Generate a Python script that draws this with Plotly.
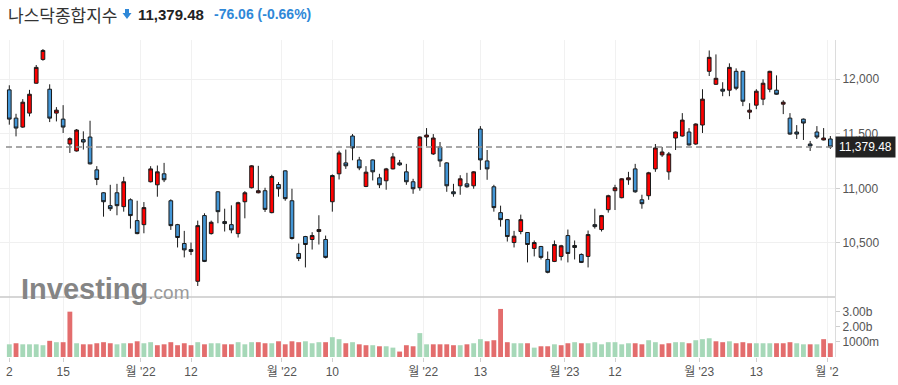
import plotly.graph_objects as go

# ---------------- data ----------------
open_ = [11903, 11644, 11562, 11690, 11964, 12182, 11909, 11690, 11635, 11407,
         11343, 11447, 11471, 11170, 10960, 10842, 10960, 10833, 10896, 10705,
         10668, 11061, 11033, 11134, 10887, 10668, 10495, 10440, 10149, 10751,
         10586, 10969, 10696, 10668, 10586, 10878, 11006, 10960, 10979, 10778,
         11036, 11161, 10887, 10404, 10559, 10532, 10605, 10532, 10878, 11134,
         11234, 11480, 11261, 11018, 11261, 11097, 11070, 11179, 11234, 11152,
         11061, 11006, 11471, 11316, 11380, 11234, 10969, 11024, 11042, 11024,
         11544, 11252, 11015, 10778, 10714, 10504, 10605, 10596, 10450, 10468,
         10349, 10331, 10377, 10568, 10477, 10395, 10377, 10668, 10623, 10805,
         10979, 10915, 11079, 11179, 10896, 10933, 11179, 11307, 11152, 11462,
         11480, 11517, 11407, 11581, 12073, 11954, 11909, 11900, 12073, 12073,
         11699, 11763, 11818, 11909, 11900, 11772, 11644, 11517, 11635, 11407,
         11517, 11444, 11453]
high = [11945, 11684, 11818, 11903, 12131, 12277, 11954, 11745, 11763, 11468,
        11544, 11523, 11620, 11204, 10965, 11033, 11042, 11106, 10909, 10887,
        10875, 11204, 11210, 11234, 10900, 10675, 10611, 10504, 10705, 10772,
        10705, 10975, 10814, 10845, 10878, 10975, 11213, 11207, 11006, 11125,
        11058, 11166, 10997, 10495, 10565, 10599, 10754, 10568, 11128, 11346,
        11356, 11498, 11289, 11204, 11266, 11134, 11188, 11325, 11261, 11225,
        11088, 11476, 11553, 11498, 11425, 11240, 11042, 11121, 11143, 11158,
        11571, 11352, 11033, 10842, 10720, 10611, 10760, 10600, 10523, 10473,
        10422, 10523, 10483, 10623, 10523, 10404, 10614, 10814, 10757, 10942,
        11033, 11094, 11152, 11225, 10942, 11152, 11407, 11380, 11334, 11522,
        11690, 11553, 11596, 11909, 12264, 12228, 11973, 12146, 12100, 12078,
        11781, 11909, 12000, 12078, 12036, 11808, 11690, 11580, 11640, 11435,
        11571, 11553, 11480]
low = [11584, 11477, 11555, 11660, 11960, 12170, 11608, 11614, 11508, 11325,
       11338, 11356, 11220, 11030, 10741, 10793, 10754, 10787, 10632, 10580,
       10589, 11055, 10924, 11058, 10620, 10459, 10368, 10389, 10106, 10325,
       10577, 10681, 10605, 10589, 10550, 10726, 11000, 10955, 10784, 10772,
       10924, 10887, 10532, 10334, 10276, 10440, 10486, 10358, 10787, 11082,
       11179, 11258, 11167, 11012, 11073, 11003, 10988, 11174, 11207, 11033,
       10951, 10979, 11386, 11307, 11197, 10969, 10924, 10942, 11006, 10997,
       11170, 11079, 10787, 10650, 10513, 10459, 10580, 10322, 10377, 10349,
       10222, 10325, 10340, 10322, 10349, 10316, 10276, 10632, 10605, 10778,
       10802, 10909, 11033, 10960, 10814, 10896, 11152, 11289, 11079, 11352,
       11475, 11393, 11400, 11508, 12030, 11948, 11845, 11845, 11900, 11754,
       11635, 11726, 11763, 11881, 11858, 11681, 11492, 11453, 11444, 11343,
       11453, 11440, 11362]
close = [11635, 11553, 11790, 11863, 12109, 12264, 11644, 11717, 11562, 11456,
         11535, 11425, 11225, 11082, 10878, 10814, 10842, 11061, 10751, 10586,
         10824, 11179, 11152, 11079, 10659, 10550, 10437, 10422, 10659, 10331,
         10690, 10787, 10678, 10620, 10869, 10960, 11207, 10979, 10808, 11109,
         10997, 10906, 10541, 10358, 10486, 10568, 10623, 10368, 11118, 11325,
         11207, 11371, 11188, 11149, 11152, 11033, 11179, 11289, 11216, 11061,
         10997, 11471, 11489, 11462, 11252, 11024, 10951, 11088, 11015, 11152,
         11261, 11179, 10824, 10714, 10559, 10562, 10714, 10486, 10504, 10368,
         10231, 10486, 10474, 10404, 10459, 10322, 10577, 10650, 10751, 10933,
         11006, 11088, 11097, 10969, 10860, 11143, 11371, 11334, 11316, 11517,
         11626, 11398, 11590, 11818, 12201, 12009, 11891, 12109, 11918, 11799,
         11717, 11891, 11964, 12073, 11863, 11790, 11498, 11498, 11599, 11389,
         11471, 11462, 11379.48]
volume = [0.84, 0.91, 0.84, 0.84, 0.84, 0.78, 1.07, 0.98, 0.98, 3.00,
          0.91, 0.84, 0.84, 0.91, 0.98, 0.91, 0.84, 0.91, 0.91, 1.04,
          0.91, 0.98, 0.78, 0.84, 0.98, 0.78, 0.91, 0.78, 0.98, 0.84,
          0.91, 0.91, 0.84, 0.84, 0.98, 0.84, 0.98, 0.98, 0.91, 0.91,
          1.04, 0.84, 1.04, 0.98, 1.04, 0.91, 0.98, 0.98, 1.31, 1.18,
          0.91, 0.98, 0.84, 0.78, 0.78, 0.71, 0.71, 0.62, 0.36, 0.78,
          0.71, 1.58, 0.84, 0.84, 0.84, 0.84, 0.78, 0.78, 0.84, 0.91,
          1.18, 1.04, 1.11, 3.18, 0.98, 0.91, 0.91, 0.91, 0.62, 0.71,
          0.71, 0.84, 0.78, 0.91, 0.98, 0.91, 0.91, 0.98, 0.84, 0.98,
          0.98, 0.84, 0.91, 0.91, 0.84, 1.11, 0.98, 0.84, 0.91, 0.98,
          0.98, 0.91, 1.11, 1.18, 1.24, 1.04, 0.98, 1.04, 0.91, 0.98,
          0.91, 0.91, 0.91, 0.91, 0.91, 0.91, 0.98, 0.91, 0.84, 0.84,
          0.84, 1.18, 0.91]  # billions
volume_dir = ("grggggrgrr" "grrrrrggrr" "ggrrrrrrgr" "ggrrgggrrg" "rrrrgggrgg"
              "rgrrgrggrr" "rggrrrrgrg" "grrrrggrgr" "rgrrgrgggg" "gggrrggrrg"
              "grgggrrgrr" "rgggrrrggr" "grr")
tick_pos = [0, 8, 19.5, 27, 40.5, 48, 61.5, 70, 82.5, 90, 102.5, 111, 121.5]
tick_text = ["2", "15", "월 '22", "12", "월 '22", "10", "월 '22", "13",
             "월 '23", "12", "월 '23", "13", "월 '2"]
price_ticks = [10500, 11000, 11500, 12000]
price_tick_text = ["10,500", "11,000", "11,500", "12,000"]
vol_ticks = [1.0, 2.0, 3.0]
vol_tick_text = ["1000m", "2.00b", "3.00b"]
last_price = 11379.48
title_name = "나스닥종합지수"
title_price = "11,379.48"
title_change = "-76.06 (-0.66%)"

# ---------------- layout helpers ----------------
W, H = 898, 385
ML, MR, MT, MB = 0, 63, 40, 28
PW, PH = W - ML - MR, H - MT - MB
VOL_FRAC = 60 / PH


def px(xp):
    return (xp - ML) / PW


def py(yp):
    return (H - MB - yp) / PH


x = list(range(len(close)))
vcolors = ["#a6d8b8" if d == "g" else "#e36d6d" for d in volume_dir]

fig = go.Figure()
fig.add_trace(go.Candlestick(
    x=x, open=open_, high=high, low=low, close=close,
    increasing=dict(fillcolor="#ff0000", line=dict(color="#1a1a1a", width=1)),
    decreasing=dict(fillcolor="#4396d6", line=dict(color="#1a1a1a", width=1)),
    whiskerwidth=0, xaxis="x2", yaxis="y2", showlegend=False, hoverinfo="skip"))
fig.add_trace(go.Bar(
    x=x, y=volume, width=0.72, marker=dict(color=vcolors, line=dict(width=0)),
    xaxis="x", yaxis="y", showlegend=False, hoverinfo="skip"))

xr = [-(9.3 - ML) / 6.73, (835 - 9.3) / 6.73]
fig.update_layout(
    width=W, height=H, margin=dict(l=ML, r=MR, t=MT, b=MB),
    paper_bgcolor="white", plot_bgcolor="white",
    font=dict(family="Liberation Sans, Arial, Noto Sans CJK KR", size=12, color="#555"),
    hovermode=False, boxgap=0.22,
    xaxis=dict(domain=[0, 1], range=xr, anchor="y", tickmode="array",
               tickvals=tick_pos, ticktext=tick_text, showgrid=True,
               gridcolor="#f1f1f1", gridwidth=1, zeroline=False, showline=False,
               ticks="outside", ticklen=4, tickcolor="#cfcfcf",
               tickfont=dict(size=12, color="#555"), rangeslider=dict(visible=False)),
    xaxis2=dict(domain=[0, 1], range=xr, anchor="y2", matches="x", tickmode="array",
                tickvals=tick_pos, showticklabels=False, showgrid=True,
                gridcolor="#f1f1f1", gridwidth=1, zeroline=False, showline=False,
                ticks="", rangeslider=dict(visible=False)),
    yaxis=dict(domain=[0, VOL_FRAC], range=[0, 3.97], side="right", anchor="x",
               tickmode="array", tickvals=vol_ticks, ticktext=vol_tick_text,
               showgrid=False, zeroline=False, showline=True, linecolor="#dcdcdc",
               ticks="outside", ticklen=4, tickcolor="#cfcfcf",
               tickfont=dict(size=12, color="#555")),
    yaxis2=dict(domain=[VOL_FRAC, 1], range=[10005, 12360], side="right", anchor="x2",
                tickmode="array", tickvals=price_ticks, ticktext=price_tick_text,
                showgrid=True, gridcolor="#f0f0f0", zeroline=False, showline=True,
                linecolor="#dcdcdc", ticks="outside", ticklen=4, tickcolor="#cfcfcf",
                tickfont=dict(size=12, color="#555")),
)

shapes = [
    dict(type="line", xref="paper", yref="paper", x0=0, x1=1, y0=VOL_FRAC, y1=VOL_FRAC,
         line=dict(color="#c8c8c8", width=1.5), layer="above"),
    dict(type="line", xref="paper", yref="y2", x0=px(6), x1=1, y0=last_price, y1=last_price,
         line=dict(color="#8c8c8c", width=1.5, dash="6px,4px"), layer="above"),
]
arrow_pts = [(125, 9), (129, 9), (129, 13), (131.5, 13), (127, 19), (122.5, 13), (125, 13)]
path = "M " + " L ".join(f"{px(a):.5f},{py(b):.5f}" for a, b in arrow_pts) + " Z"
shapes.append(dict(type="path", xref="paper", yref="paper", path=path,
                   fillcolor="#2f88d8", line=dict(width=0)))
fig.update_layout(shapes=shapes)

ann = [
    dict(text=title_name, x=px(6), y=py(14), xanchor="left", yanchor="middle",
         font=dict(family="Noto Sans CJK KR", size=17, color="#333")),
    dict(text="<b>" + title_price + "</b>", x=px(136), y=py(14), xanchor="left",
         yanchor="middle", font=dict(family="Liberation Sans", size=15, color="#222")),
    dict(text="<b>" + title_change + "</b>", x=px(212), y=py(14), xanchor="left",
         yanchor="middle", font=dict(family="Liberation Sans", size=14, color="#2f88d8")),
    dict(text=f"{last_price:,.2f}", xref="paper", yref="y2", x=1, y=last_price,
         xanchor="left", yanchor="middle", bgcolor="#222222", borderpad=3,
         font=dict(family="Liberation Sans", size=12, color="white")),
    dict(text="<b>Investing</b><span style='font-size:19px;color:#9a9a9a'>.com</span>",
         x=px(19), y=py(307), xanchor="left", yanchor="bottom",
         font=dict(family="Liberation Sans", size=29, color="#858585")),
]
for a in ann:
    a.setdefault("xref", "paper")
    a.setdefault("yref", "paper")
    a["showarrow"] = False
fig.update_layout(annotations=ann)

fig.write_html("out.html", config={"displayModeBar": False},
               post_script="document.body.style.margin='0';document.body.style.padding='0';")
